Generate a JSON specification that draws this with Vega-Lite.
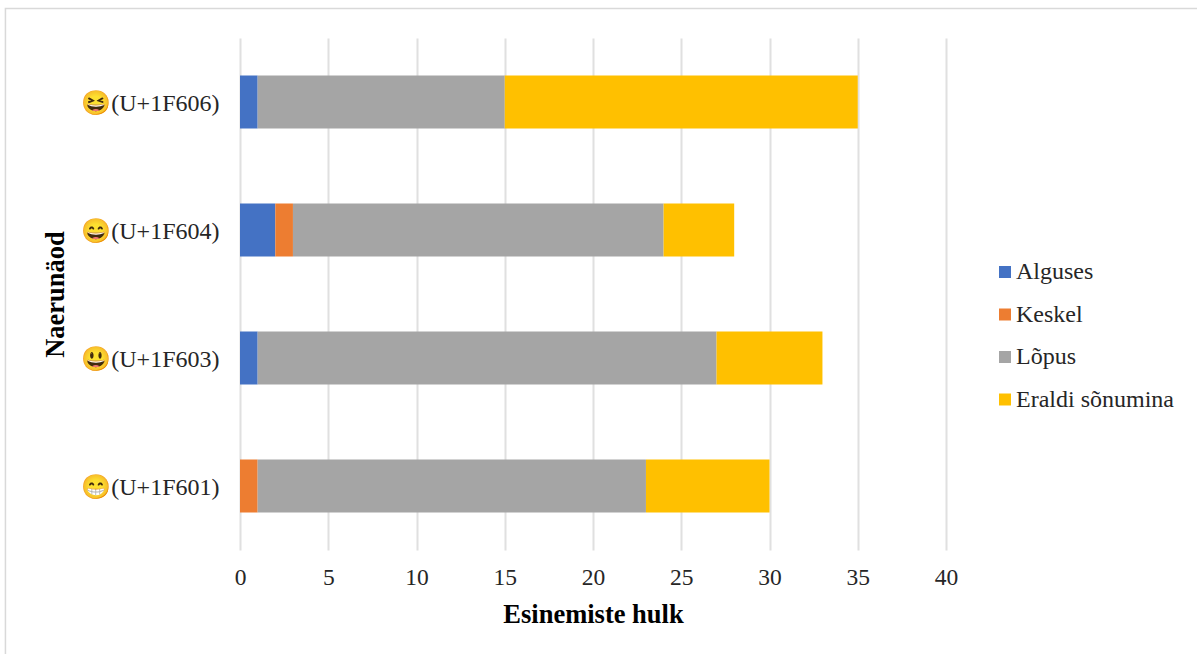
{"$schema":"https://vega.github.io/schema/vega-lite/v6.json","width":706,"height":512,"padding":{"left":240,"top":38,"right":251,"bottom":104},"autosize":{"type":"none"},"background":"white","config":{"view":{"stroke":null},"font":"Liberation Serif"},
"resolve":{"scale":{"y":"independent"}},
"layer":[
{"data":{"values":[
{"nagu":"😆(U+1F606)","asukoht":"Alguses","jrk":1,"hulk":1},
{"nagu":"😆(U+1F606)","asukoht":"Keskel","jrk":2,"hulk":0},
{"nagu":"😆(U+1F606)","asukoht":"Lõpus","jrk":3,"hulk":14},
{"nagu":"😆(U+1F606)","asukoht":"Eraldi sõnumina","jrk":4,"hulk":20},
{"nagu":"😄(U+1F604)","asukoht":"Alguses","jrk":1,"hulk":2},
{"nagu":"😄(U+1F604)","asukoht":"Keskel","jrk":2,"hulk":1},
{"nagu":"😄(U+1F604)","asukoht":"Lõpus","jrk":3,"hulk":21},
{"nagu":"😄(U+1F604)","asukoht":"Eraldi sõnumina","jrk":4,"hulk":4},
{"nagu":"😃(U+1F603)","asukoht":"Alguses","jrk":1,"hulk":1},
{"nagu":"😃(U+1F603)","asukoht":"Keskel","jrk":2,"hulk":0},
{"nagu":"😃(U+1F603)","asukoht":"Lõpus","jrk":3,"hulk":26},
{"nagu":"😃(U+1F603)","asukoht":"Eraldi sõnumina","jrk":4,"hulk":6},
{"nagu":"😁(U+1F601)","asukoht":"Alguses","jrk":1,"hulk":0},
{"nagu":"😁(U+1F601)","asukoht":"Keskel","jrk":2,"hulk":1},
{"nagu":"😁(U+1F601)","asukoht":"Lõpus","jrk":3,"hulk":22},
{"nagu":"😁(U+1F601)","asukoht":"Eraldi sõnumina","jrk":4,"hulk":7}
]},
"mark":{"type":"bar","size":53},
"encoding":{
"y":{"field":"nagu","type":"nominal","sort":["😆(U+1F606)","😄(U+1F604)","😃(U+1F603)","😁(U+1F601)"],"scale":{"paddingInner":0,"paddingOuter":0},"axis":{"title":"Naerunäod","titleFontSize":26.5,"titleFont":"Liberation Serif","titleFontWeight":"bold","titleColor":"#000000","titlePadding":11,"labelFontSize":24,"labelFont":"Liberation Serif","labelColor":"#262626","ticks":false,"domain":false,"labelPadding":21,"labelLimit":300,"labelOffset":1.5}},
"x":{"field":"hulk","type":"quantitative","stack":"zero","scale":{"domain":[0,40],"nice":false},"axis":{"values":[0,5,10,15,20,25,30,35,40],"title":"Esinemiste hulk","titleFontSize":26.5,"titleFont":"Liberation Serif","titleFontWeight":"bold","titleColor":"#000000","titlePadding":13,"labelFontSize":23.5,"labelFont":"Liberation Serif","labelColor":"#262626","labelFlush":false,"ticks":false,"domain":false,"labelPadding":15,"grid":true,"gridColor":"#e0e0e0","gridWidth":2}},
"color":{"field":"asukoht","type":"nominal","scale":{"domain":["Alguses","Keskel","Lõpus","Eraldi sõnumina"],"range":["#4472C4","#ED7D31","#A5A5A5","#FFC000"]},"legend":{"title":null,"orient":"none","legendX":753,"legendY":222,"symbolType":"square","symbolSize":144,"symbolStrokeWidth":0,"labelFontSize":24,"labelFont":"Liberation Serif","labelColor":"#262626","rowPadding":18.5,"labelOffset":-1,"labelLimit":300}},
"order":{"field":"jrk","type":"ordinal"}
}},
{"data":{"values":[{}]},"mark":{"type":"rect","fill":"transparent","stroke":"#d9d9d9","strokeWidth":1.5,"clip":false},
"encoding":{
"x":{"datum":-13.29,"type":"quantitative"},
"x2":{"datum":60},
"y":{"datum":1.0576,"type":"quantitative","scale":{"domain":[0,1],"nice":false},"axis":null},
"y2":{"datum":-1}
}}
]}
